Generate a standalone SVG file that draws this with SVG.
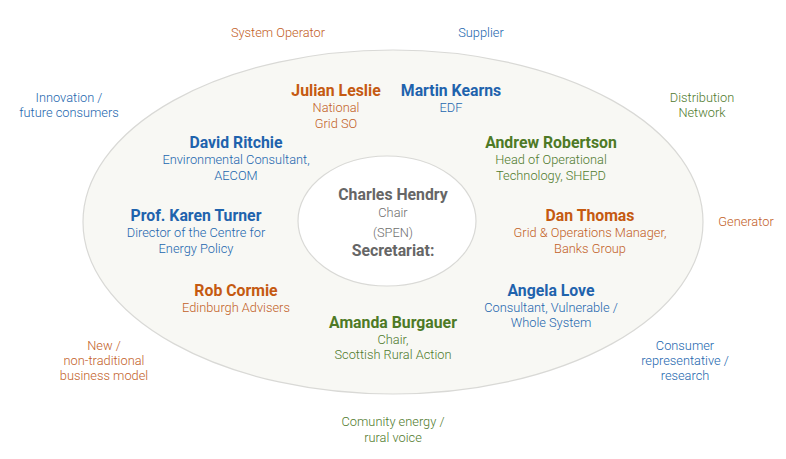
<svg xmlns="http://www.w3.org/2000/svg" width="786" height="459" viewBox="0 0 786 459">
<style>
text{font-family:Roboto,"Liberation Sans",sans-serif;text-anchor:middle}
.n{font-size:15.8px;font-weight:bold}
.s{font-size:12.8px;font-weight:300}
.o{fill:#c55a11}
.b{fill:#1f63ad}
.g{fill:#4e7a26}
.k{fill:#666}
.ol{fill:#c2601f}
.bl{fill:#2266ae}
.gl{fill:#4f7a2c}
.kl{fill:#6e6e6e}
</style>
<rect width="786" height="459" fill="#fff"/>
<g id="outer"><ellipse cx="393" cy="222" rx="310" ry="172" fill="#f8f8f4" stroke="#d9d9d6" stroke-width="1.2"/></g>
<g id="inner"><ellipse cx="387" cy="221" rx="89" ry="65" fill="#fff" stroke="#d9d9d6" stroke-width="1.2"/></g>
<g id="connectors"></g>
<g id="labels-outside">
<text class="s ol" x="278" y="36.5">System Operator</text>
<text class="s bl" x="481" y="36.5">Supplier</text>
<text class="s bl" x="69" y="101.5">Innovation /</text>
<text class="s bl" x="69" y="116.5">future consumers</text>
<text class="s gl" x="702" y="101.5">Distribution</text>
<text class="s gl" x="702" y="116.5">Network</text>
<text class="s ol" x="746" y="225.5">Generator</text>
<text class="s ol" x="104" y="349.5">New /</text>
<text class="s ol" x="104" y="364.5">non-traditional</text>
<text class="s ol" x="104" y="379.5">business model</text>
<text class="s bl" x="685" y="349.5">Consumer</text>
<text class="s bl" x="685" y="364.5">representative /</text>
<text class="s bl" x="685" y="379.5">research</text>
<text class="s gl" x="393" y="425.5">Comunity energy /</text>
<text class="s gl" x="393" y="441.5">rural voice</text>
</g>
<g id="julian"><text class="n o" x="336" y="95.5">Julian Leslie</text><text class="s ol" x="336" y="111.5">National</text><text class="s ol" x="336" y="127.5">Grid SO</text></g>
<g id="martin"><text class="n b" x="451" y="95.5">Martin Kearns</text><text class="s bl" x="451" y="111.5">EDF</text></g>
<g id="david"><text class="n b" x="236" y="147.5">David Ritchie</text><text class="s bl" x="236" y="163.5">Environmental Consultant,</text><text class="s bl" x="236" y="179.5">AECOM</text></g>
<g id="andrew"><text class="n g" x="551" y="147.5">Andrew Robertson</text><text class="s gl" x="551" y="163.5">Head of Operational</text><text class="s gl" x="551" y="179.5">Technology, SHEPD</text></g>
<g id="charles"><text class="n k" x="393" y="199.5">Charles Hendry</text><text class="s kl" x="393" y="216.5">Chair</text><text class="s kl" x="393" y="236.5">(SPEN)</text><text class="n k" x="393" y="255.5">Secretariat:</text></g>
<g id="karen"><text class="n b" x="196" y="220.5">Prof. Karen Turner</text><text class="s bl" x="196" y="236.5">Director of the Centre for</text><text class="s bl" x="196" y="252.5">Energy Policy</text></g>
<g id="dan"><text class="n o" x="590" y="220.5">Dan Thomas</text><text class="s ol" x="590" y="236.5">Grid &amp; Operations Manager,</text><text class="s ol" x="590" y="252.5">Banks Group</text></g>
<g id="rob"><text class="n o" x="236" y="295.5">Rob Cormie</text><text class="s ol" x="236" y="311.5">Edinburgh Advisers</text></g>
<g id="angela"><text class="n b" x="551" y="295.5">Angela Love</text><text class="s bl" x="551" y="311.5">Consultant, Vulnerable /</text><text class="s bl" x="551" y="326.5">Whole System</text></g>
<g id="amanda"><text class="n g" x="393" y="327.5">Amanda Burgauer</text><text class="s gl" x="393" y="343.5">Chair,</text><text class="s gl" x="393" y="358.5">Scottish Rural Action</text></g>
</svg>
